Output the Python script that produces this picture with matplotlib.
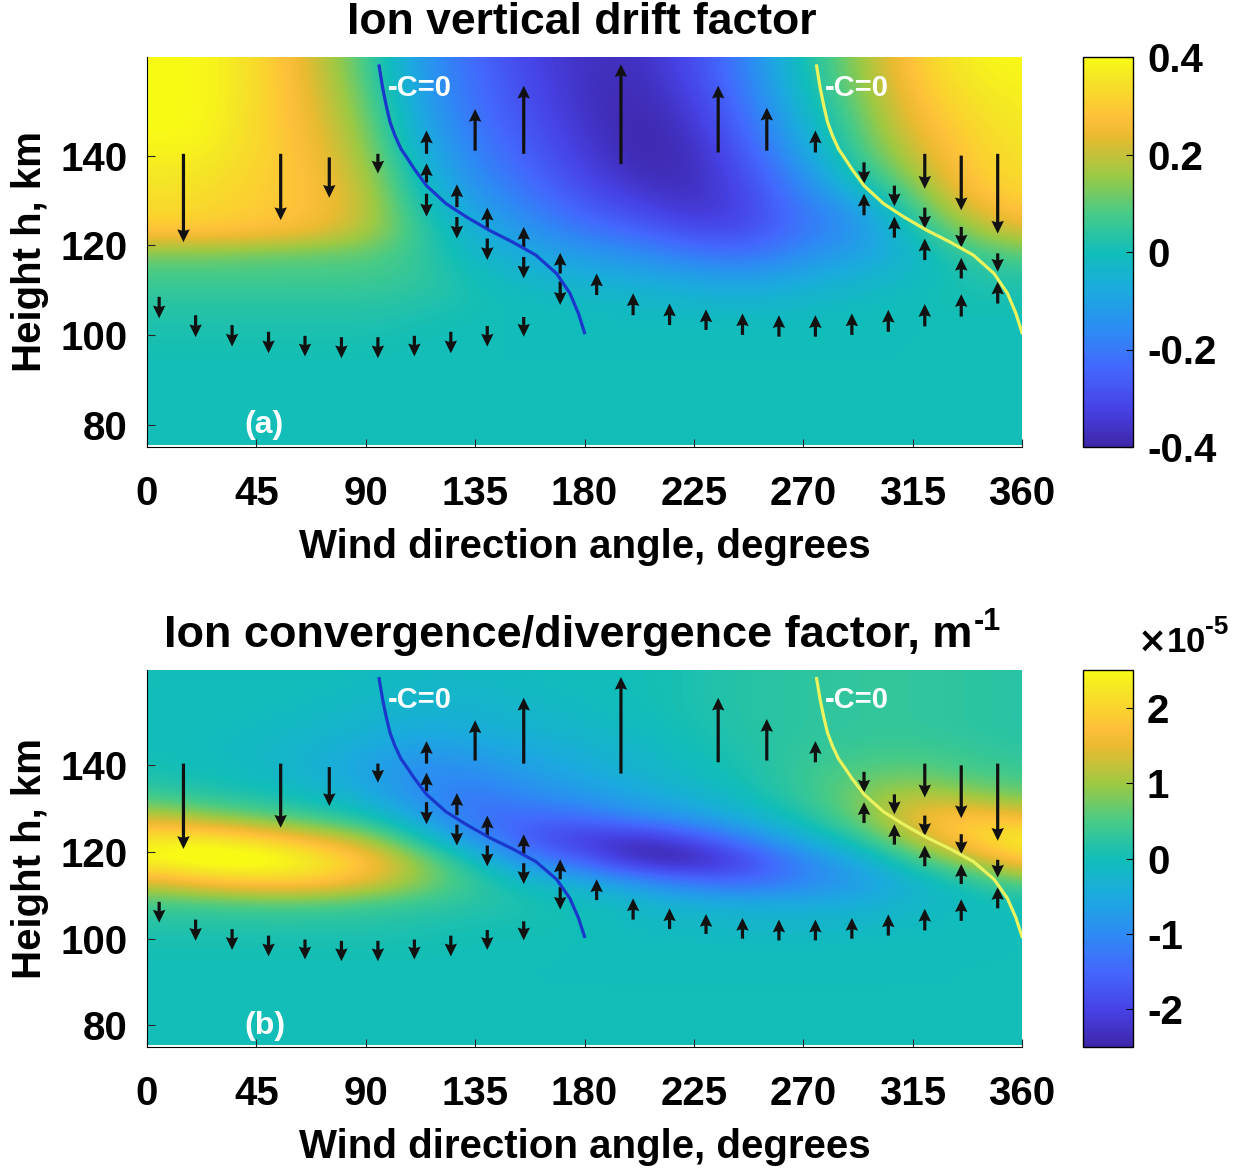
import numpy as np
import matplotlib.pyplot as plt
from matplotlib.colors import LinearSegmentedColormap

plt.rcParams['font.family'] = ['Liberation Sans', 'DejaVu Sans']
plt.rcParams['font.weight'] = 'bold'
plt.rcParams['axes.labelweight'] = 'bold'
plt.rcParams['axes.unicode_minus'] = False

# parula (matlab) aproximado con algunos puntos
parula_pos = [0, 25, 51, 76, 102, 127, 153, 178, 204, 216, 229, 242, 255]
parula_rgb = [(0.2422, 0.1504, 0.6603), (0.2788, 0.2598, 0.9035), (0.2647, 0.4030, 0.9935),
              (0.1768, 0.5452, 0.9560), (0.1085, 0.6669, 0.8734), (0.0638, 0.7446, 0.7292),
              (0.2809, 0.7964, 0.5266), (0.6161, 0.7878, 0.2622), (0.9184, 0.7308, 0.1890),
              (0.9971, 0.7513, 0.2309), (0.9835, 0.8280, 0.1817), (0.9596, 0.9023, 0.1480),
              (0.9769, 0.9839, 0.0805)]
parula = LinearSegmentedColormap.from_list('parula', [(p / 255, c) for p, c in zip(parula_pos, parula_rgb)])

# malla
grid_angles = [0, 22.5, 45, 67.5, 90, 112.5, 135, 157.5, 180, 202.5, 225, 247.5, 270, 292.5, 315, 337.5, 360]
grid_heights = [78, 83, 88, 93, 98, 103, 108, 113, 118, 123, 128, 133, 138, 143, 148, 153, 158, 163]

# factor de deriva vertical, una lista por angulo (alturas de abajo hacia arriba)
drift_cols = [
    [0, 0, 0, 0, 0.01, 0.02, 0.04, 0.07, 0.12, 0.29, 0.33, 0.35, 0.37, 0.39, 0.40, 0.40, 0.40, 0.40],
    [0, 0, 0, 0, 0.01, 0.02, 0.04, 0.07, 0.12, 0.29, 0.33, 0.35, 0.37, 0.39, 0.40, 0.40, 0.40, 0.40],
    [0, 0, 0, 0, 0.01, 0.02, 0.04, 0.07, 0.11, 0.28, 0.30, 0.31, 0.32, 0.33, 0.33, 0.34, 0.34, 0.34],
    [0, 0, 0, 0, 0.01, 0.02, 0.04, 0.07, 0.10, 0.25, 0.28, 0.28, 0.27, 0.26, 0.25, 0.24, 0.23, 0.22],
    [0, 0, 0, 0, 0.01, 0.02, 0.04, 0.07, 0.10, 0.18, 0.20, 0.19, 0.17, 0.15, 0.13, 0.11, 0.09, 0.08],
    [0, 0, 0, 0, 0, 0.01, 0.03, 0.05, 0.05, 0.05, 0.02, -0.01, -0.04, -0.07, -0.09, -0.11, -0.12, -0.13],
    [0, 0, 0, 0, 0, 0, 0.01, 0, -0.03, -0.06, -0.10, -0.14, -0.17, -0.19, -0.21, -0.22, -0.23, -0.24],
    [0, 0, 0, 0, 0, 0, -0.01, -0.04, -0.08, -0.13, -0.18, -0.22, -0.25, -0.27, -0.29, -0.30, -0.31, -0.32],
    [0, 0, 0, 0, 0, -0.01, -0.02, -0.06, -0.12, -0.20, -0.26, -0.30, -0.33, -0.35, -0.36, -0.37, -0.37, -0.37],
    [0, 0, 0, 0, 0, -0.01, -0.03, -0.08, -0.15, -0.24, -0.31, -0.36, -0.39, -0.40, -0.40, -0.39, -0.38, -0.37],
    [0, 0, 0, 0, 0, -0.01, -0.04, -0.10, -0.20, -0.30, -0.36, -0.38, -0.38, -0.37, -0.35, -0.33, -0.31, -0.30],
    [0, 0, 0, 0, 0, -0.01, -0.05, -0.12, -0.22, -0.30, -0.32, -0.30, -0.28, -0.25, -0.22, -0.20, -0.18, -0.17],
    [0, 0, 0, 0, 0, -0.01, -0.03, -0.08, -0.15, -0.20, -0.20, -0.17, -0.12, -0.08, -0.05, -0.02, 0.00, 0.01],
    [0, 0, 0, 0, 0, 0, -0.02, -0.05, -0.10, -0.14, -0.12, -0.02, 0.04, 0.08, 0.10, 0.12, 0.14, 0.15],
    [0, 0, 0, 0, 0, 0, 0, -0.02, -0.04, 0.00, 0.06, 0.12, 0.18, 0.22, 0.25, 0.27, 0.29, 0.30],
    [0, 0, 0, 0, 0, 0, 0.01, 0.02, 0.05, 0.14, 0.22, 0.28, 0.30, 0.31, 0.33, 0.35, 0.37, 0.38],
    [0, 0, 0, 0, 0, 0, 0.01, 0.03, 0.10, 0.22, 0.30, 0.33, 0.35, 0.36, 0.37, 0.38, 0.39, 0.40],
]

# factor de convergencia/divergencia (x 1e-5 m^-1)
conv_cols = [
    [0, 0, 0, 0, 0.05, 0.15, 0.4, 1.3, 2.5, 2.3, 1.3, 0.4, 0.1, 0, 0, 0, 0, 0],
    [0, 0, 0, 0, 0.05, 0.15, 0.4, 1.7, 2.8, 2.4, 1.0, 0.2, 0, -0.05, -0.05, 0, 0, 0],
    [0, 0, 0, 0, 0.05, 0.15, 0.5, 1.9, 2.8, 2.1, 0.7, 0.1, -0.1, -0.15, -0.1, -0.05, 0, 0],
    [0, 0, 0, 0, 0.05, 0.15, 0.5, 1.9, 2.5, 1.6, 0.4, -0.1, -0.3, -0.3, -0.2, -0.1, -0.05, 0],
    [0, 0, 0, 0, 0.05, 0.15, 0.4, 1.5, 1.9, 1.1, 0.1, -0.4, -0.6, -0.5, -0.3, -0.2, -0.1, -0.05],
    [0, 0, 0, 0, 0.05, 0.1, 0.3, 0.9, 0.9, 0.1, -0.6, -1.0, -1.0, -0.8, -0.5, -0.3, -0.2, -0.1],
    [0, 0, 0, 0, 0, 0.05, 0.2, 0.3, 0.0, -0.9, -1.4, -1.3, -1.0, -0.7, -0.4, -0.3, -0.2, -0.1],
    [0, 0, 0, 0, 0, 0.05, 0.1, -0.1, -1.0, -1.8, -1.5, -1.0, -0.7, -0.5, -0.3, -0.2, -0.1, -0.05],
    [0, 0, 0, 0, 0, 0, 0, -0.4, -1.6, -2.2, -1.4, -0.8, -0.5, -0.35, -0.2, -0.1, -0.05, 0],
    [0, 0, 0, 0, -0.05, -0.1, -0.2, -0.8, -2.5, -2.4, -1.0, -0.5, -0.3, -0.2, -0.1, 0, 0, 0],
    [0, 0, 0, 0, -0.05, -0.15, -0.3, -1.3, -2.6, -1.9, -0.7, -0.3, -0.1, 0, 0.05, 0.1, 0.1, 0.1],
    [0, 0, 0, 0, -0.05, -0.2, -0.4, -1.5, -2.0, -1.1, -0.3, 0, 0.1, 0.15, 0.2, 0.2, 0.2, 0.2],
    [0, 0, 0, 0, -0.05, -0.2, -0.4, -1.1, -1.1, -0.4, 0.1, 0.3, 0.35, 0.3, 0.25, 0.25, 0.25, 0.25],
    [0, 0, 0, 0, -0.05, -0.15, -0.4, -0.8, -0.5, 0.2, 0.7, 0.8, 0.6, 0.4, 0.3, 0.3, 0.3, 0.3],
    [0, 0, 0, 0, 0, -0.1, -0.2, -0.3, 0.3, 1.1, 1.6, 1.2, 0.7, 0.45, 0.3, 0.3, 0.3, 0.3],
    [0, 0, 0, 0, 0, 0, -0.1, 0.1, 1.0, 2.0, 1.9, 1.0, 0.5, 0.35, 0.25, 0.25, 0.25, 0.25],
    [0, 0, 0, 0, 0, 0, 0, 0.6, 1.9, 2.5, 1.6, 0.7, 0.4, 0.25, 0.2, 0.2, 0.2, 0.2],
]

# flechas: angulo, altura de la cola y desplazamiento vertical (km)
arrow_ang = [5, 20, 35, 50, 65, 80, 95, 110, 125, 140, 155,
             185, 200, 215, 230, 245, 260, 275, 290, 305, 320, 335, 350,
             115, 115, 115, 127.5, 127.5, 140, 140, 155, 155, 170, 170,
             295, 295, 307.5, 307.5, 320, 320, 320, 335, 335, 335, 350, 350,
             15, 55, 75, 95, 135, 155, 195, 235, 255, 275]
arrow_h = [108.5, 104.4, 102.2, 100.7, 99.8, 99.5, 99.5, 99.8, 100.7, 102, 104,
           108.9, 104.4, 102.2, 101.1, 100, 99.6, 99.6, 100, 100.7, 101.9, 104.1, 107,
           140.4, 134, 131.5, 128.5, 126.3, 123.7, 121.5, 119.6, 117.4, 113.7, 111.9,
           138.5, 126.7, 133.3, 121.7, 140.4, 128.4, 116.7, 140, 124.1, 112.6, 140.4, 118.2,
           140.4, 140.4, 139.6, 140.4, 141.1, 140.4, 138.1, 140.7, 141.1, 140.7]
arrow_dh = [-4.8, -4.9, -4.8, -4.8, -4.6, -4.7, -4.7, -4.6, -4.8, -4.6, -4.4,
            4.8, 4.9, 4.8, 4.6, 4.8, 4.8, 4.8, 4.8, 4.9, 5.0, 5.0, 4.9,
            5.2, 4.3, -5.1, 5.1, -4.8, 4.7, -4.8, 4.5, -4.8, 4.6, -5.2,
            -4.8, 4.8, -4.6, 4.7, -7.8, -4.7, 4.8, -12.2, -4.6, 4.6, -17.8, -4.1,
            -19.7, -14.8, -9.0, -4.4, 9.3, 15.2, 22.3, 14.9, 9.6, 4.9]

# linea C=0 (la segunda es la misma desplazada 180 grados)
c0_ang = [95.5, 97, 98.5, 100, 102, 104.5, 107, 110, 115, 123, 131.5, 141, 150.5, 160, 168.5, 174, 177.5, 180]
c0_h = [160, 155, 151, 147.5, 144.5, 141.5, 139.5, 137, 133.3, 129.3, 126.3, 123.3, 120.7, 117.8, 113.7, 109.3, 104.8, 100.5]

x_ticks = [0, 45, 90, 135, 180, 225, 270, 315, 360]
y_ticks = [80, 100, 120, 140]


def panel(ax, cax, field, vmax, cticks, tag):
    da = grid_angles[1] - grid_angles[0]
    dh = grid_heights[1] - grid_heights[0]
    ext = [grid_angles[0] - da / 2, grid_angles[-1] + da / 2,
           grid_heights[0] - dh / 2, grid_heights[-1] + dh / 2]
    im = ax.imshow(np.array(field).T, origin='lower', extent=ext, aspect='auto', cmap=parula,
                   vmin=-vmax, vmax=vmax, interpolation='bicubic', interpolation_stage='data')
    ax.quiver(arrow_ang, arrow_h, np.zeros(len(arrow_dh)), arrow_dh, angles='xy', scale_units='xy',
              scale=1, units='dots', width=3.2, headwidth=3.9, headlength=4.0, headaxislength=3.6,
              color='#111111', zorder=3)
    ax.plot(c0_ang, c0_h, color='#1a38cc', lw=2.3, zorder=4)
    ax.plot(np.array(c0_ang) + 180, c0_h, color='#eaf25e', lw=2.3, zorder=4)
    ax.text(99, 155, '-C=0', color='white', fontsize=21, ha='left', va='center', zorder=5)
    ax.text(279, 155, '-C=0', color='white', fontsize=21, ha='left', va='center', zorder=5)
    ax.text(40, 79.8, tag, color='white', fontsize=23, ha='left', va='center', zorder=5)

    ax.set_xlim(0, 360)
    ax.set_ylim(75, 162)
    ax.set_xticks(x_ticks)
    ax.set_yticks(y_ticks)
    ax.tick_params(direction='in', length=6, labelsize=29, color='#262626')
    ax.tick_params(axis='x', pad=20)
    ax.tick_params(axis='y', pad=14)
    ax.spines['top'].set_visible(False)
    ax.spines['right'].set_visible(False)
    ax.set_xlabel('Wind direction angle, degrees', fontsize=29, labelpad=11)
    ax.set_ylabel('Height h, km', fontsize=29, labelpad=8)

    cb = fig.colorbar(im, cax=cax, ticks=cticks)
    cb.ax.tick_params(direction='in', length=5, labelsize=29, pad=10)
    cb.outline.set_linewidth(1)
    return cb


fig = plt.figure(figsize=(12.48, 11.7), dpi=100)
W, H = 1248, 1170
ax1 = fig.add_axes([147 / W, 1 - 447 / H, 875 / W, 390 / H])
cax1 = fig.add_axes([1083 / W, 1 - 447 / H, 50 / W, 390 / H])
ax2 = fig.add_axes([147 / W, 1 - 1047 / H, 875 / W, 377 / H])
cax2 = fig.add_axes([1083 / W, 1 - 1047 / H, 50 / W, 377 / H])

cb1 = panel(ax1, cax1, drift_cols, 0.4, [-0.4, -0.2, 0, 0.2, 0.4], '(a)')
cb1.ax.set_yticklabels(['-0.4', '-0.2', '0', '0.2', '0.4'])
cb2 = panel(ax2, cax2, conv_cols, 2.5, [-2, -1, 0, 1, 2], '(b)')
cb2.ax.set_yticklabels(['-2', '-1', '0', '1', '2'])

fig.text(582 / W, 1 - 23 / H, 'Ion vertical drift factor', fontsize=32, ha='center', va='center')
fig.text(568 / W, 1 - 636 / H, 'Ion convergence/divergence factor, m', fontsize=32.5,
         ha='center', va='center')
fig.text(974 / W, 1 - 622 / H, '-1', fontsize=22, ha='left', va='center')
fig.text(1137 / W, 1 - 643 / H, r'$\times$10', fontsize=25, ha='left', va='center')
fig.text(1205 / W, 1 - 627 / H, '-5', fontsize=19, ha='left', va='center')

fig.savefig('out.png', dpi=100)
